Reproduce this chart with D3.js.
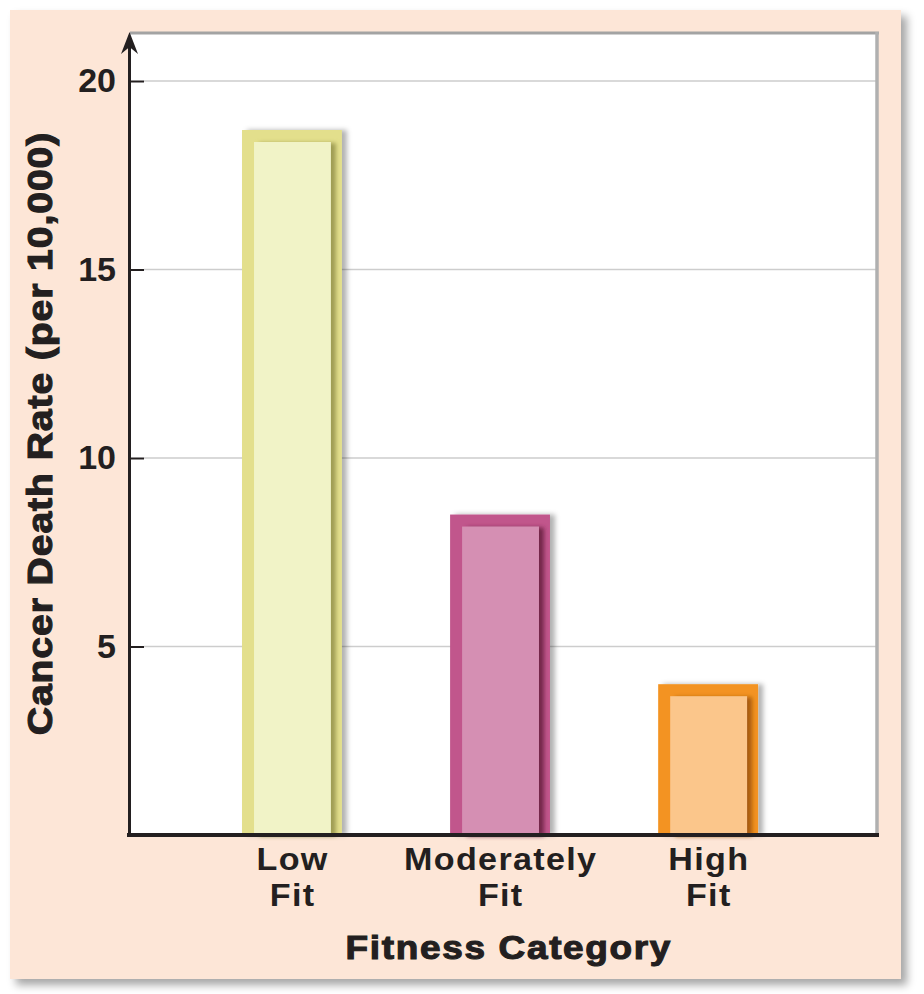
<!DOCTYPE html>
<html lang="en">
<head>
  <meta charset="UTF-8">
  <title>Cancer Death Rate by Fitness Category</title>
  <style>
    body { margin: 0; background: #fff; }
    text { font-family: "Liberation Sans", Arial, sans-serif; fill: #231f20; }
  </style>
</head>
<body>
  <svg id="svg" width="924" height="994"></svg>

  <script src="https://d3js.org/d3.v7.min.js"></script>
  <script>
    // ------ DATA ------------------------
    const categories = ['Low Fit', 'Moderately Fit', 'High Fit']
    const labelLines = [['Low', 'Fit'], ['Moderately', 'Fit'], ['High', 'Fit']]
    const deathRates = [18.7, 8.5, 4.0]
    const yTicks = [5, 10, 15, 20]

    // bar colours: border, inner fill, inner shadow
    const borderColors = ['#e3df8c', '#c1568c', '#f39321']
    const fillColors = ['#f1f3c7', '#d58fb3', '#fbc68b']
    const shadeColors = ['#9f9c52', '#732749', '#a95c0c']

    // CONSTANTS
    const plot = { left: 130, top: 32, right: 877, bottom: 835 }
    const svg = d3.select('#svg')
    const defs = svg.append('defs')

    defs.append('filter').attr('id', 'panelShadow')
      .attr('x', '-5%').attr('y', '-5%').attr('width', '115%').attr('height', '115%')
      .append('feDropShadow')
      .attr('dx', 6).attr('dy', 6).attr('stdDeviation', 4)
      .attr('flood-color', '#000').attr('flood-opacity', 0.35)

    defs.append('filter').attr('id', 'barShadow')
      .attr('x', '-20%').attr('y', '-5%').attr('width', '150%').attr('height', '115%')
      .append('feDropShadow')
      .attr('dx', 5).attr('dy', 0).attr('stdDeviation', 2.5)
      .attr('flood-color', '#000').attr('flood-opacity', 0.3)

    shadeColors.forEach((c, i) => {
      defs.append('filter').attr('id', 'innerShade' + i)
        .attr('x', '-10%').attr('y', '-5%').attr('width', '130%').attr('height', '115%')
        .append('feDropShadow')
        .attr('dx', 5).attr('dy', 1).attr('stdDeviation', 2.2)
        .attr('flood-color', c).attr('flood-opacity', 1)
    })

    // peach panel + white plot area
    svg.append('rect')
      .attr('x', 10).attr('y', 10).attr('width', 891).attr('height', 969)
      .attr('fill', '#fde6d7')
      .attr('filter', 'url(#panelShadow)')

    svg.append('rect')
      .attr('x', plot.left).attr('y', plot.top)
      .attr('width', plot.right - plot.left).attr('height', plot.bottom - plot.top)
      .attr('fill', '#fff')

    // scales
    const y = d3.scaleLinear().domain([0, 20]).range([plot.bottom, 81])
    const x = d3.scaleBand()
      .domain(categories)
      .range([plot.left, plot.right])
      .paddingInner(0.52)
      .paddingOuter(0.555)
      .align(0.485)

    // gridlines
    svg.append('g')
      .selectAll('line')
      .data(yTicks)
      .join('line')
      .attr('x1', plot.left + 14).attr('x2', plot.right)
      .attr('y1', d => y(d)).attr('y2', d => y(d))
      .attr('stroke', '#cdcdcd').attr('stroke-width', 1.5)

    // plot frame top / right
    svg.append('line')
      .attr('x1', plot.left).attr('x2', plot.right + 2)
      .attr('y1', plot.top + 1).attr('y2', plot.top + 1)
      .attr('stroke', '#a3a3a3').attr('stroke-width', 3)
    svg.append('line')
      .attr('x1', plot.right).attr('x2', plot.right)
      .attr('y1', plot.top).attr('y2', plot.bottom)
      .attr('stroke', '#b0b0b0').attr('stroke-width', 3.5)

    // bars
    const bars = svg.append('g')
      .selectAll('g')
      .data(categories)
      .join('g')

    bars.append('rect')
      .attr('x', d => x(d))
      .attr('y', (d, i) => y(deathRates[i]))
      .attr('width', x.bandwidth())
      .attr('height', (d, i) => y(0) - y(deathRates[i]))
      .attr('fill', (d, i) => borderColors[i])
      .attr('filter', 'url(#barShadow)')

    bars.append('rect')
      .attr('x', d => x(d) + 12)
      .attr('y', (d, i) => y(deathRates[i]) + 12)
      .attr('width', x.bandwidth() - 23)
      .attr('height', (d, i) => y(0) - y(deathRates[i]) - 12)
      .attr('fill', (d, i) => fillColors[i])
      .attr('filter', (d, i) => `url(#innerShade${i})`)

    // y axis ticks + labels
    const yAxis = svg.append('g')
      .attr('transform', `translate(${plot.left},0)`)
      .call(d3.axisLeft(y).tickValues(yTicks).tickSize(-14).tickPadding(14))

    yAxis.select('.domain').remove()
    yAxis.selectAll('.tick line').attr('stroke', '#231f20').attr('stroke-width', 2)
    yAxis.selectAll('.tick text')
      .attr('font-size', 34)
      .attr('font-weight', 'bold')
      .attr('fill', '#231f20')
      .attr('font-family', '"Liberation Sans", Arial, sans-serif')

    // axis lines with arrow
    svg.append('line')
      .attr('x1', 129.5).attr('x2', 129.5)
      .attr('y1', plot.bottom).attr('y2', 45)
      .attr('stroke', '#231f20').attr('stroke-width', 3)
    svg.append('path')
      .attr('d', 'M129.5,32 L121,54 L129.5,47 L138,54 Z')
      .attr('fill', '#231f20')
    svg.append('line')
      .attr('x1', 127).attr('x2', plot.right + 2)
      .attr('y1', plot.bottom).attr('y2', plot.bottom)
      .attr('stroke', '#231f20').attr('stroke-width', 4)

    // category labels (slightly widened glyphs)
    svg.append('g')
      .selectAll('text')
      .data(categories)
      .join('text')
      .attr('transform', d => `translate(${x(d) + x.bandwidth() / 2},0) scale(1.1,1)`)
      .attr('text-anchor', 'middle')
      .attr('font-size', 31)
      .attr('font-weight', 'bold')
      .attr('letter-spacing', 1.2)
      .each(function (d, i) {
        d3.select(this).selectAll('tspan')
          .data(labelLines[i])
          .join('tspan')
          .attr('x', 0.6)
          .attr('y', (t, j) => 870 + j * 36)
          .text(t => t)
      })

    // axis titles (heavy, wide)
    svg.append('text')
      .attr('transform', 'translate(508,959) scale(1.12,1)')
      .attr('text-anchor', 'middle')
      .attr('font-size', 33)
      .attr('font-weight', 'bold')
      .attr('stroke', '#231f20').attr('stroke-width', 1.1)
      .attr('textLength', 290).attr('lengthAdjust', 'spacing')
      .text('Fitness Category')

    svg.append('text')
      .attr('transform', 'translate(52,434) rotate(-90) scale(1.12,1)')
      .attr('text-anchor', 'middle')
      .attr('font-size', 35)
      .attr('font-weight', 'bold')
      .attr('stroke', '#231f20').attr('stroke-width', 1.1)
      .attr('textLength', 538).attr('lengthAdjust', 'spacing')
      .text('Cancer Death Rate (per 10,000)')
  </script>
</body>
</html>
